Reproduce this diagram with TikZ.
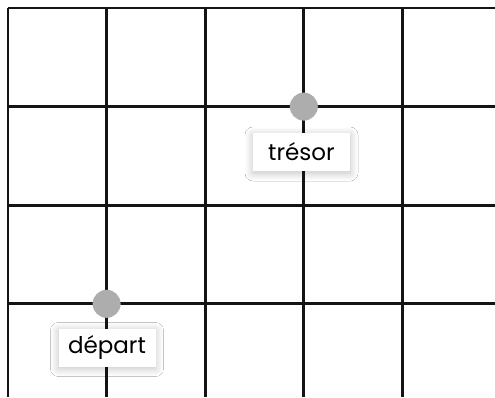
\documentclass[tikz,border=0pt]{standalone}
\usepackage{fontspec}
\setmainfont{Poppins}
\usetikzlibrary{shadows.blur}
\definecolor{dotgray}{HTML}{ADADAD}
\begin{document}
\begin{tikzpicture}[x=1pt,y=-1pt,
  gridline/.style={line width=2.8pt,black!92},
  dot/.style={circle,fill=dotgray,minimum size=28pt,inner sep=0pt},
  tag/.style={fill=white,minimum width=97pt,minimum height=38pt,inner sep=0pt,font=\fontsize{23}{23}\selectfont,blur shadow={shadow xshift=0pt,shadow yshift=-2pt,shadow blur radius=8pt,shadow blur steps=12,shadow opacity=25}}]
\useasboundingbox (0,0) rectangle (495,398);
\fill[white] (0,0) rectangle (495,398);
% horizontal lines
\foreach \y in {8,106.6,205.2,303.8} \draw[gridline] (8,\y) -- (495,\y);
% vertical lines
\foreach \x in {8,106.6,205.2,303.8,402.4} \draw[gridline] (\x,8) -- (\x,397);
\node[dot] (tresordot) at (303.8,106.6) {};
\node[dot] (departdot) at (106.6,303.8) {};
\node[tag] (tresor) at (301.5,152) {trésor};
\node[tag] (depart) at (107,347.5) {départ};
\end{tikzpicture}
\end{document}
